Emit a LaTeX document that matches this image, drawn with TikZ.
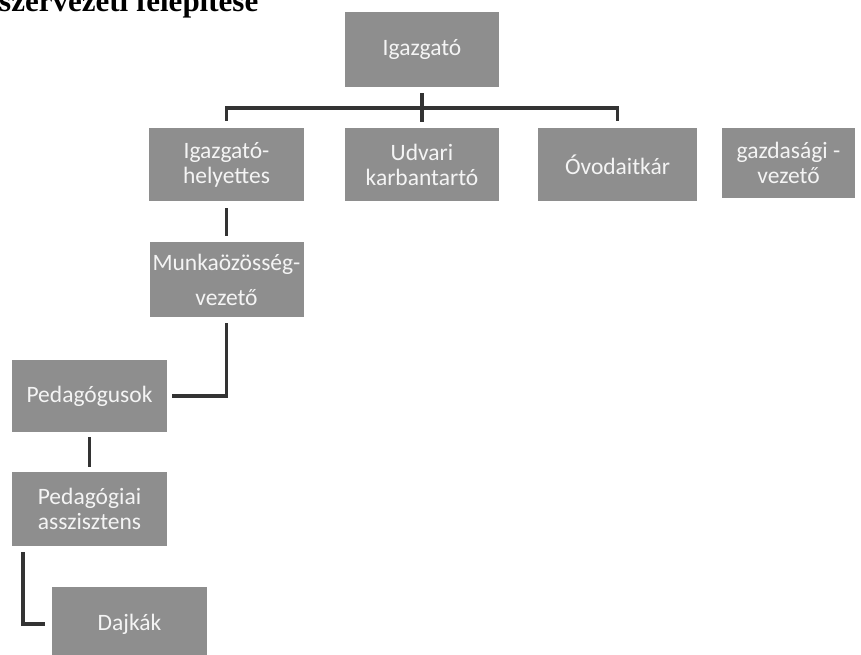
\documentclass[tikz,border=0pt]{standalone}
\usepackage{fontspec}
\setmainfont{Carlito}
\newfontfamily\titlefont{Liberation Serif}
\definecolor{boxgray}{HTML}{8E8E8E}
\definecolor{boxtext}{HTML}{F4F4F4}
\definecolor{linegray}{HTML}{333333}
\begin{document}
\begin{tikzpicture}[x=1pt,y=-1pt,
  box/.style={fill=boxgray, text=boxtext, draw=none, inner sep=0pt, align=center,
    font=\fontsize{23.5}{25}\selectfont},
  conn/.style={draw=linegray, line width=3.6pt, line cap=butt, line join=miter}]
\clip (0,0) rectangle (861,654);
\fill[white] (0,0) rectangle (861,654);
\node[anchor=base west, inner sep=0pt, text=black,
  font=\titlefont\bfseries\fontsize{31}{31}\selectfont] (title) at (-1,11) {szervezeti felépítése};
\node[box, minimum width=154pt, minimum height=75pt] (igaz) at (422,49.5) {Igazgató};
\node[box, minimum width=155pt, minimum height=73pt] (help) at (226.5,164.5) {Igazgató-\\helyettes};
\node[box, minimum width=154pt, minimum height=73pt] (udv) at (422,164.5) {Udvari\\karbantartó};
\node[box, minimum width=159pt, minimum height=73pt] (ovo) at (617.5,164.5) {Óvodaitkár};
\node[box, minimum width=133pt, minimum height=70pt] (gazd) at (788.5,163) {gazdasági -\\vezető};
\node[box, minimum width=154pt, minimum height=75pt] (munka) at (226.5,279.5) {Munkaözösség-\\[10pt]vezető};
\node[box, minimum width=155pt, minimum height=72pt] (ped) at (89.5,396) {Pedagógusok};
\node[box, minimum width=155pt, minimum height=74pt] (assz) at (89.5,509) {Pedagógiai\\asszisztens};
\node[box, minimum width=155pt, minimum height=75pt] (dajk) at (129.5,624) {Dajkák};
\coordinate (bar) at (0,108);
\draw[conn] ([yshift=-6pt]igaz.south) -- ([yshift=6pt]udv.north);
\draw[conn] ([yshift=7pt]help.north) -- (help.north |- bar) -- (ovo.north |- bar) -- ([yshift=7pt]ovo.north);
\draw[conn] ([yshift=-7pt]help.south) -- ([yshift=6pt]munka.north);
\draw[conn] ([yshift=-6pt]munka.south) |- ([xshift=5pt]ped.east);
\draw[conn] ([yshift=-5pt]ped.south) -- ([yshift=5pt]assz.north);
\draw[conn] ([xshift=11pt,yshift=-6pt]assz.south west) |- ([xshift=-7pt]dajk.west);
\end{tikzpicture}
\end{document}
